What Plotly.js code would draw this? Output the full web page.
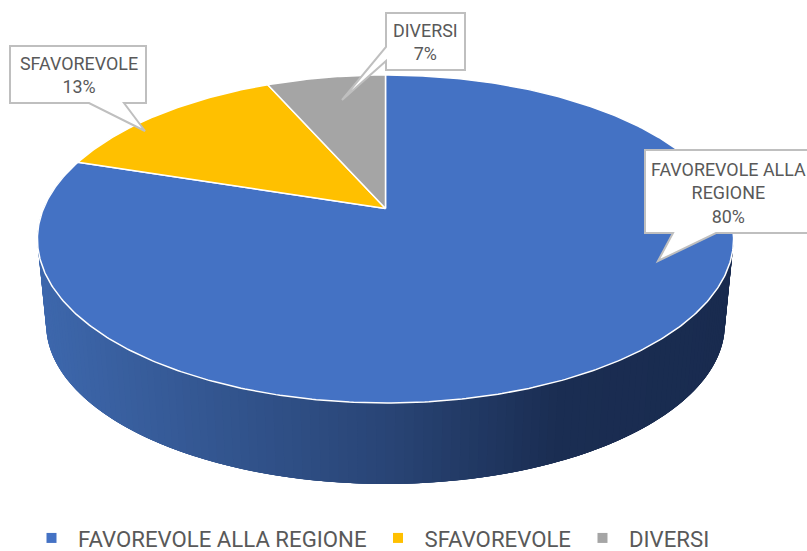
<!DOCTYPE html>
<html><head><meta charset="utf-8">
<script src="https://cdn.plot.ly/plotly-3.0.1.min.js"></script>
<style>html,body{margin:0;padding:0;background:#fff}#c{width:807px;height:551px}</style>
</head><body><div id="c"></div>
<script>
const categories = ["FAVOREVOLE ALLA REGIONE", "SFAVOREVOLE", "DIVERSI"];
const values = [80, 13.4, 6.6];
const colors = ["#4472C4", "#FFC000", "#A5A5A5"];
const TXT = "#595959", EDGE = "#BFBFBF", FONT = "Roboto, sans-serif";

// perspective view of the pie disc
const cx = 385.5, y0 = 208.5, A = 342, B = 158.3, k = 0.186;
const depthScale = 0.975, y1 = 294.4;
function rim(t, s, yc) {
  const u = Math.sin(t), v = Math.cos(t), w = 1 + k * v;
  return [cx + s * A * u / w, yc - s * B * v / w];
}
function arc(a, b, s, yc) {
  const n = Math.max(2, Math.ceil(Math.abs(b - a) / 0.01)), p = [];
  for (let i = 0; i <= n; i++) p.push(rim(a + (b - a) * i / n, s, yc));
  return p;
}
function lerp(a, b, f) { return a.map((c, i) => Math.round(c + (b[i] - c) * f)); }
function sideColor(x) {
  const stops = [[40, [61, 103, 172]], [200, [52, 87, 146]], [385, [41, 69, 118]], [560, [26, 45, 82]], [740, [25, 43, 79]]];
  for (let i = 1; i < stops.length; i++) if (x <= stops[i][0]) {
    const f = Math.max(0, (x - stops[i - 1][0]) / (stops[i][0] - stops[i - 1][0]));
    return "rgb(" + lerp(stops[i - 1][1], stops[i][1], f).join(",") + ")";
  }
  return "rgb(25,43,79)";
}

const traces = [];
// side wall: later strips overlap earlier ones so no seams show
const nStrips = 160, tA = Math.PI * 1.58, tB = Math.PI * 0.42;
for (let i = 0; i < nStrips; i++) {
  const a = tA + (tB - tA) * i / nStrips;
  const b = tA + (tB - tA) * Math.min(i + 4, nStrips) / nStrips;
  const pts = arc(a, b, 1, y0).concat(arc(b, a, depthScale, y1));
  const col = sideColor(rim(a + (tB - tA) / nStrips / 2, 1, y0)[0]);
  traces.push({ type: "scatter", mode: "lines", x: pts.map(p => p[0]), y: pts.map(p => p[1]),
    fill: "toself", fillcolor: col, line: { width: 0 }, showlegend: false, hoverinfo: "skip" });
}
// top slices, clockwise from 12 o'clock
const total = values.reduce((a, b) => a + b, 0);
let acc = 0;
values.forEach((v, i) => {
  const a = acc / total * 2 * Math.PI, b = (acc + v) / total * 2 * Math.PI;
  acc += v;
  const pts = [[cx, y0]].concat(arc(a, b, 1, y0)); pts.push([cx, y0]);
  traces.push({ type: "scatter", mode: "lines", x: pts.map(p => p[0]), y: pts.map(p => p[1]),
    fill: "toself", fillcolor: colors[i], line: { color: "#fff", width: 1.5 }, showlegend: false,
    name: categories[i], hoverinfo: "name" });
});
// legend entries
categories.forEach((c, i) => traces.push({ type: "scatter", mode: "markers", x: [null], y: [null], name: c,
  marker: { symbol: "square", size: 10, color: colors[i] } }));

const callouts = [
  "M645,150 L820,150 L820,233 L716,233 L658,261 L673,233 L645,233 Z",
  "M10,46 L146,46 L146,103 L124,103 L145,131 L89,103 L10,103 Z",
  "M386,13 L465,13 L465,70 L386,70 L386,61 L342,100 L386,47 Z"
];
const labelPos = [[728.5, 193], [79, 75], [425, 42]];
const plotH = 511;
const layout = {
  width: 807, height: 551, margin: { l: 0, r: 0, t: 0, b: 551 - plotH }, paper_bgcolor: "#fff", plot_bgcolor: "#fff",
  xaxis: { range: [0, 807], visible: false, fixedrange: true },
  yaxis: { range: [plotH, 0], visible: false, fixedrange: true },
  showlegend: true,
  legend: { orientation: "h", x: 25 / 807, xanchor: "left", y: 13 / 551, yanchor: "middle", yref: "container",
    itemwidth: 43, font: { family: FONT, size: 22.2, color: TXT }, traceorder: "normal", bgcolor: "rgba(0,0,0,0)" },
  shapes: callouts.map(p => ({ type: "path", xref: "x", yref: "y", path: p, fillcolor: "#fff",
    line: { color: EDGE, width: 2 } })),
  annotations: categories.map((c, i) => ({ xref: "x", yref: "y", x: labelPos[i][0], y: labelPos[i][1], showarrow: false,
    text: (i === 0 ? "FAVOREVOLE ALLA<br>REGIONE" : c) + "<br>" + Math.round(values[i]) + "%", align: "center",
    font: { family: FONT, size: 17.9, color: TXT } }))
};
Plotly.newPlot("c", traces, layout, { displayModeBar: false, staticPlot: true });
</script></body></html>
